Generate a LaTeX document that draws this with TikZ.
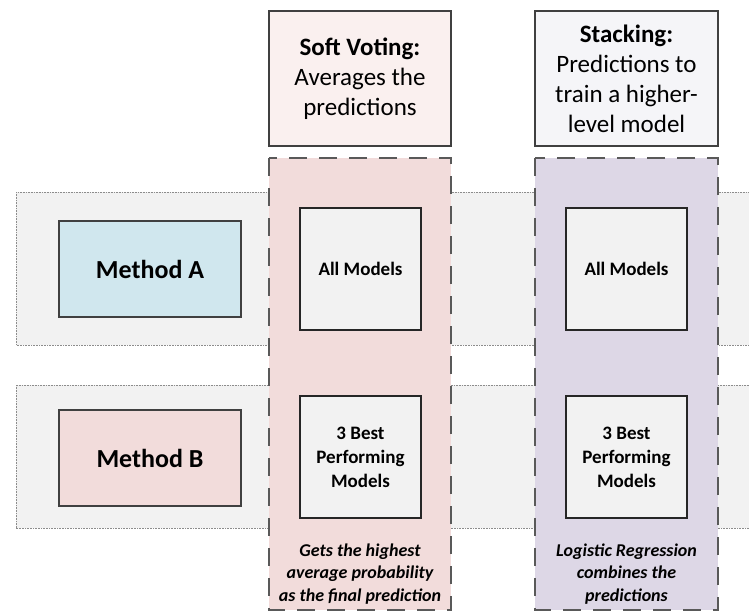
\documentclass[tikz,border=0pt]{standalone}
\usepackage{fontspec}
\setmainfont{Carlito}
\definecolor{bandgray}{HTML}{F2F2F2}
\definecolor{softhead}{HTML}{FAF0EF}
\definecolor{stackhead}{HTML}{F5F5F8}
\definecolor{softcol}{HTML}{F2DCDB}
\definecolor{stackcol}{HTML}{DDD7E6}
\definecolor{methoda}{HTML}{D0E7EE}
\definecolor{methodb}{HTML}{F2DCDB}
\tikzset{
  band/.style={fill=bandgray, draw=black!45, line width=0.8pt, dash pattern=on 0.8pt off 0.8pt},
  column/.style={draw=black!65, line width=2.2pt, dash pattern=on 18pt off 12pt},
  headbox/.style={draw=black!75, line width=1.3pt, minimum width=182pt, minimum height=135pt, align=center, font=\fontsize{25}{30}\selectfont},
  methodbox/.style={draw=black!75, line width=1.3pt, minimum width=182pt, minimum height=96pt, font=\fontsize{26}{31}\selectfont\bfseries},
  modelbox/.style={draw=black!85, fill=bandgray, line width=1.3pt, minimum width=121pt, minimum height=122pt, align=center, font=\fontsize{19}{24}\selectfont\bfseries},
  note/.style={align=center, font=\fontsize{18}{22.5}\selectfont\bfseries\itshape}
}
\begin{document}
\begin{tikzpicture}[x=1pt, y=-1pt]
\useasboundingbox (0,0) rectangle (749,615);
\clip (0,0) rectangle (749,615);
\draw[band] (16,192) rectangle (770,345);
\draw[band] (16,385) rectangle (770,528);
\draw[column, fill=softcol] (269,158) rectangle (451,610);
\draw[column, fill=stackcol] (535,158) rectangle (718,610);
\node[headbox, fill=softhead] (softhead) at (360,78.5) {\textbf{Soft Voting:}\\Averages the\\predictions};
\node[headbox, fill=stackhead, minimum width=183pt] (stackhead) at (626.5,78.5) {\textbf{Stacking:}\\Predictions to\\train a higher-\\level model};
\node[methodbox, fill=methoda] (methoda) at (150,269) {Method A};
\node[methodbox, fill=methodb] (methodb) at (150,458) {Method B};
\node[modelbox] (softall) at (360.5,269) {All Models};
\node[modelbox] (stackall) at (626.5,269) {All Models};
\node[modelbox] (softbest) at (360.5,457) {3 Best\\Performing\\Models};
\node[modelbox] (stackbest) at (626.5,457) {3 Best\\Performing\\Models};
\node[note] (softnote) at (360,574) {Gets the highest\\average probability\\as the final prediction};
\node[note] (stacknote) at (626.5,574) {Logistic Regression\\combines the\\predictions};
\end{tikzpicture}
\end{document}
